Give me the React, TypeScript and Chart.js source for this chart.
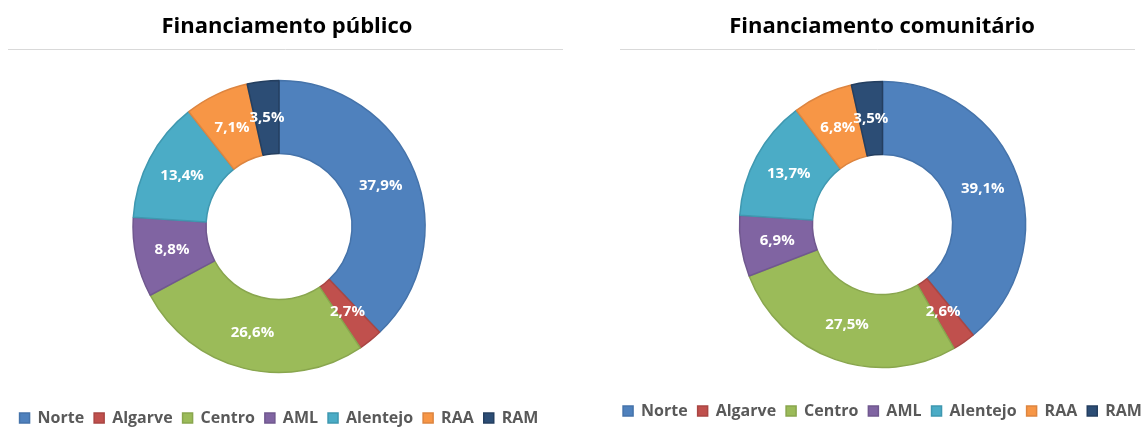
import React, { useEffect, useRef } from 'react';
import { Chart, registerables } from 'chart.js';

Chart.register(...registerables);

const regions = ['Norte', 'Algarve', 'Centro', 'AML', 'Alentejo', 'RAA', 'RAM'];
const publicShare = [37.9, 2.7, 26.6, 8.8, 13.4, 7.1, 3.5];
const communityShare = [39.1, 2.6, 27.5, 6.9, 13.7, 6.8, 3.5];
const chartTitles = ['Financiamento público', 'Financiamento comunitário'];
const fills = ['#4F81BD', '#C0504D', '#9BBB59', '#8064A2', '#4BACC6', '#F79646', '#2C4D75'];
const edges = ['#4573AA', '#A94643', '#89A64E', '#70588F', '#3F98B0', '#DD8540', '#243F60'];

const FONT = "'Open Sans', 'DejaVu Sans', sans-serif";

type Spec = {
  left: number;
  width: number;
  height: number;
  padTop: number;
  padLeft: number;
  padRight: number;
  radius: number;
  cutout: string;
  titleX: number;
  titleY: number;
  lineY: number;
  lineX1: number;
  lineX2: number;
};

const specs: Spec[] = [
  { left: 0, width: 570, height: 436, padTop: 53, padLeft: 0, padRight: 12, radius: 146, cutout: '50%', titleX: 287, titleY: 27, lineY: 49.5, lineX1: 8, lineX2: 563 },
  { left: 612, width: 541, height: 429, padTop: 56, padLeft: 0, padRight: 0, radius: 143, cutout: '49%', titleX: 270, titleY: 27, lineY: 49.5, lineX1: 8, lineX2: 523 },
];

const fmt = (v: number) => v.toFixed(1).replace('.', ',') + '%';

function Donut({ title, values, spec }: { title: string; values: number[]; spec: Spec }) {
  const ref = useRef<HTMLCanvasElement | null>(null);
  useEffect(() => {
    if (!ref.current) return;
    const header = {
      id: 'header',
      beforeDraw(chart: any) {
        const ctx = chart.ctx;
        ctx.save();
        ctx.strokeStyle = '#D9D9D9';
        ctx.lineWidth = 1;
        ctx.beginPath();
        ctx.moveTo(spec.lineX1, spec.lineY);
        ctx.lineTo(spec.lineX2, spec.lineY);
        ctx.stroke();
        ctx.fillStyle = '#000000';
        ctx.font = `bold 22px ${FONT}`;
        ctx.textAlign = 'center';
        ctx.textBaseline = 'middle';
        ctx.fillText(title, spec.titleX, spec.titleY);
        ctx.restore();
      },
    };
    const labels = {
      id: 'sliceLabels',
      afterDatasetsDraw(chart: any) {
        const ctx = chart.ctx;
        const meta = chart.getDatasetMeta(0);
        ctx.save();
        ctx.fillStyle = '#FFFFFF';
        ctx.font = `bold 15px ${FONT}`;
        ctx.textAlign = 'center';
        ctx.textBaseline = 'middle';
        meta.data.forEach((arc: any, i: number) => {
          const p = arc.tooltipPosition();
          ctx.fillText(fmt(values[i]), p.x, p.y);
        });
        ctx.restore();
      },
    };
    const chart = new Chart(ref.current, {
      type: 'doughnut',
      data: {
        labels: regions,
        datasets: [
          {
            data: values,
            backgroundColor: fills,
            borderColor: edges,
            borderWidth: 1.5,
            radius: spec.radius,
            cutout: spec.cutout,
          },
        ],
      },
      options: {
        responsive: false,
        animation: false,
        devicePixelRatio: 1,
        events: [],
        layout: { padding: { top: spec.padTop, left: spec.padLeft, right: spec.padRight, bottom: 0 } },
        plugins: {
          title: { display: false },
          tooltip: { enabled: false },
          legend: {
            display: true,
            position: 'bottom',
            labels: {
              boxWidth: 10,
              boxHeight: 10,
              padding: 10,
              color: '#595959',
              font: { family: FONT, size: 16, weight: 'bold' },
            },
          },
        },
      },
      plugins: [header, labels],
    });
    return () => chart.destroy();
  }, [title, values, spec]);
  return (
    <canvas
      ref={ref}
      width={spec.width}
      height={spec.height}
      style={{ position: 'absolute', left: spec.left, top: 0, width: spec.width, height: spec.height }}
    />
  );
}

export default function App() {
  return (
    <div style={{ position: 'fixed', left: 0, top: 0, width: 1141, height: 429, overflow: 'hidden', background: '#FFFFFF' }}>
      <Donut title={chartTitles[0]} values={publicShare} spec={specs[0]} />
      <Donut title={chartTitles[1]} values={communityShare} spec={specs[1]} />
    </div>
  );
}
